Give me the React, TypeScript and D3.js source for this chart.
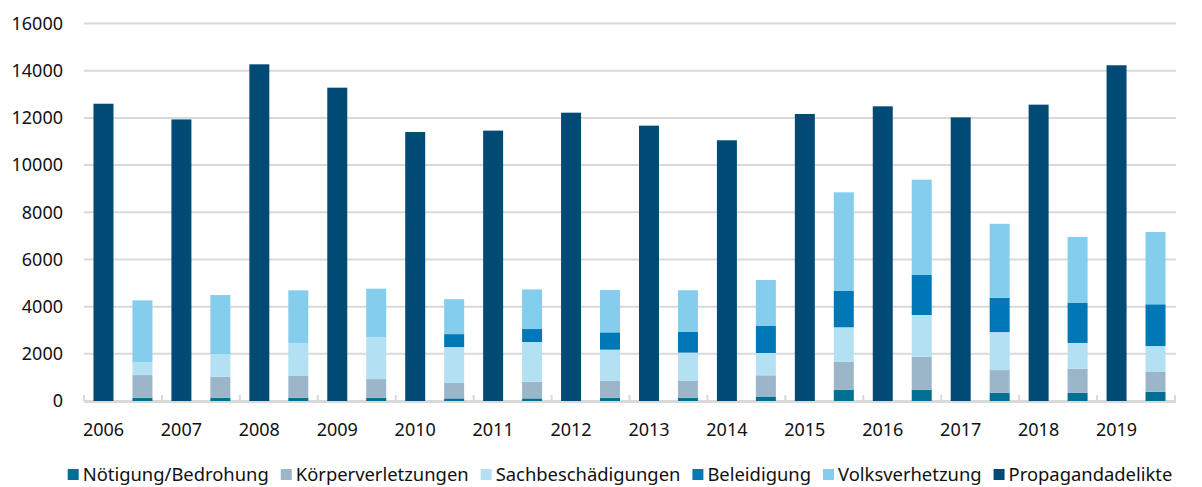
import React, { useEffect, useRef } from 'react';
import * as d3 from 'd3';

// Politisch motivierte Kriminalität – rechts, Deliktsbereiche 2006–2019
const years = ['2006', '2007', '2008', '2009', '2010', '2011', '2012', '2013', '2014', '2015', '2016', '2017', '2018', '2019'];
const propagandadelikte = [12600, 11935, 14270, 13280, 11400, 11460, 12220, 11670, 11050, 12165, 12490, 12020, 12560, 14230];
const noetigung = [140, 140, 140, 140, 110, 110, 140, 140, 190, 480, 480, 350, 350, 395];
const koerperverletzungen = [960, 890, 920, 790, 665, 710, 710, 710, 900, 1190, 1400, 960, 1020, 835];
const sachbeschaedigungen = [550, 960, 1400, 1780, 1510, 1680, 1325, 1200, 945, 1455, 1765, 1610, 1090, 1100];
const beleidigung = [0, 0, 0, 0, 550, 550, 735, 875, 1145, 1540, 1695, 1455, 1710, 1770];
const volksverhetzung = [2615, 2500, 2230, 2050, 1480, 1680, 1795, 1770, 1950, 4180, 4040, 3135, 2785, 3065];
const yTicks = [0, 2000, 4000, 6000, 8000, 10000, 12000, 14000, 16000];

const stackKeys = ['Nötigung/Bedrohung', 'Körperverletzungen', 'Sachbeschädigungen', 'Beleidigung', 'Volksverhetzung'];
const legendKeys = [...stackKeys, 'Propagandadelikte'];
const colors = ['#006f94', '#9bb6c8', '#b3e1f3', '#0077b6', '#84cdec', '#004b76'];

const FONT = '"Noto Sans", "Open Sans", sans-serif';

const App = () => {
  const svgRef = useRef(null);

  useEffect(() => {
    const width = 1202;
    const height = 487;
    const svg = d3.select(svgRef.current);
    svg.selectAll('*').remove();

    const x = d3.scaleBand().domain(years).range([84, 1175]).paddingInner(0).paddingOuter(0);
    const sub = d3.scaleBand().domain(['prop', 'other']).range([0, x.bandwidth()])
      .paddingInner(0.487).paddingOuter(0.2435);
    const y = d3.scaleLinear().domain([0, 16000]).range([401, 23.5]);

    const color = d3.scaleOrdinal().domain(legendKeys).range(colors);

    // gridlines
    svg.append('g')
      .selectAll('line')
      .data(yTicks)
      .enter()
      .append('line')
      .attr('x1', 84)
      .attr('x2', 1176)
      .attr('y1', d => y(d))
      .attr('y2', d => y(d))
      .attr('stroke', '#d9d9d9')
      .attr('stroke-width', 2);

    // y labels
    svg.append('g')
      .selectAll('text')
      .data(yTicks)
      .enter()
      .append('text')
      .attr('x', 63)
      .attr('y', d => y(d))
      .attr('dy', '0.35em')
      .attr('text-anchor', 'end')
      .attr('font-family', FONT)
      .attr('font-size', 18)
      .attr('fill', '#111')
      .text(d => d);

    // x axis tick marks between year groups
    const boundaries = years.map(d => x(d)).concat([x(years[years.length - 1]) + x.bandwidth()]);
    svg.append('g')
      .selectAll('line')
      .data(boundaries)
      .enter()
      .append('line')
      .attr('x1', d => d)
      .attr('x2', d => d)
      .attr('y1', 395)
      .attr('y2', 401)
      .attr('stroke', '#d9d9d9')
      .attr('stroke-width', 2);

    // Propagandadelikte bars
    svg.append('g')
      .selectAll('rect')
      .data(years.map((yr, i) => ({ yr, v: propagandadelikte[i] })))
      .enter()
      .append('rect')
      .attr('x', d => x(d.yr) + sub('prop'))
      .attr('width', sub.bandwidth())
      .attr('y', d => y(d.v))
      .attr('height', d => y(0) - y(d.v))
      .attr('fill', color('Propagandadelikte'));

    // stacked bars for the other offences
    const rows = years.map((yr, i) => ({
      yr,
      'Nötigung/Bedrohung': noetigung[i],
      'Körperverletzungen': koerperverletzungen[i],
      'Sachbeschädigungen': sachbeschaedigungen[i],
      'Beleidigung': beleidigung[i],
      'Volksverhetzung': volksverhetzung[i],
    }));
    const series = d3.stack().keys(stackKeys)(rows);

    svg.append('g')
      .selectAll('g')
      .data(series)
      .enter()
      .append('g')
      .attr('fill', d => color(d.key))
      .selectAll('rect')
      .data(d => d)
      .enter()
      .append('rect')
      .attr('x', d => x(d.data.yr) + sub('other'))
      .attr('width', sub.bandwidth())
      .attr('y', d => y(d[1]))
      .attr('height', d => y(d[0]) - y(d[1]));

    // axis baseline
    svg.append('line')
      .attr('x1', 84)
      .attr('x2', 1176)
      .attr('y1', 402)
      .attr('y2', 402)
      .attr('stroke', '#d9d9d9')
      .attr('stroke-width', 2);

    // year labels under the Propagandadelikte bar
    svg.append('g')
      .selectAll('text')
      .data(years)
      .enter()
      .append('text')
      .attr('x', d => x(d) + sub('prop') + sub.bandwidth() / 2)
      .attr('y', 436)
      .attr('text-anchor', 'middle')
      .attr('font-family', FONT)
      .attr('font-size', 18)
      .attr('fill', '#111')
      .text(d => d);

    // legend, laid out from measured text widths and centred
    const legend = svg.append('g');
    const items = legend.selectAll('g')
      .data(legendKeys)
      .enter()
      .append('g');
    items.append('rect')
      .attr('width', 11)
      .attr('height', 11)
      .attr('y', -12)
      .attr('fill', d => color(d));
    items.append('text')
      .attr('x', 15)
      .attr('font-family', FONT)
      .attr('font-size', 18.4)
      .attr('fill', '#111')
      .text(d => d);

    let cursor = 0;
    items.each(function () {
      const g = d3.select(this);
      const w = g.select('text').node().getComputedTextLength();
      g.attr('transform', `translate(${cursor},0)`);
      cursor += 15 + w + 12;
    });
    const total = cursor - 12;
    legend.attr('transform', `translate(${(width - total) / 2 + 19},481)`);

    svg.attr('width', width).attr('height', height);
  }, []);

  return (
    <svg
      ref={svgRef}
      width={1202}
      height={487}
      style={{ position: 'absolute', left: 0, top: 0, background: '#fff' }}
    ></svg>
  );
};

export default App;
